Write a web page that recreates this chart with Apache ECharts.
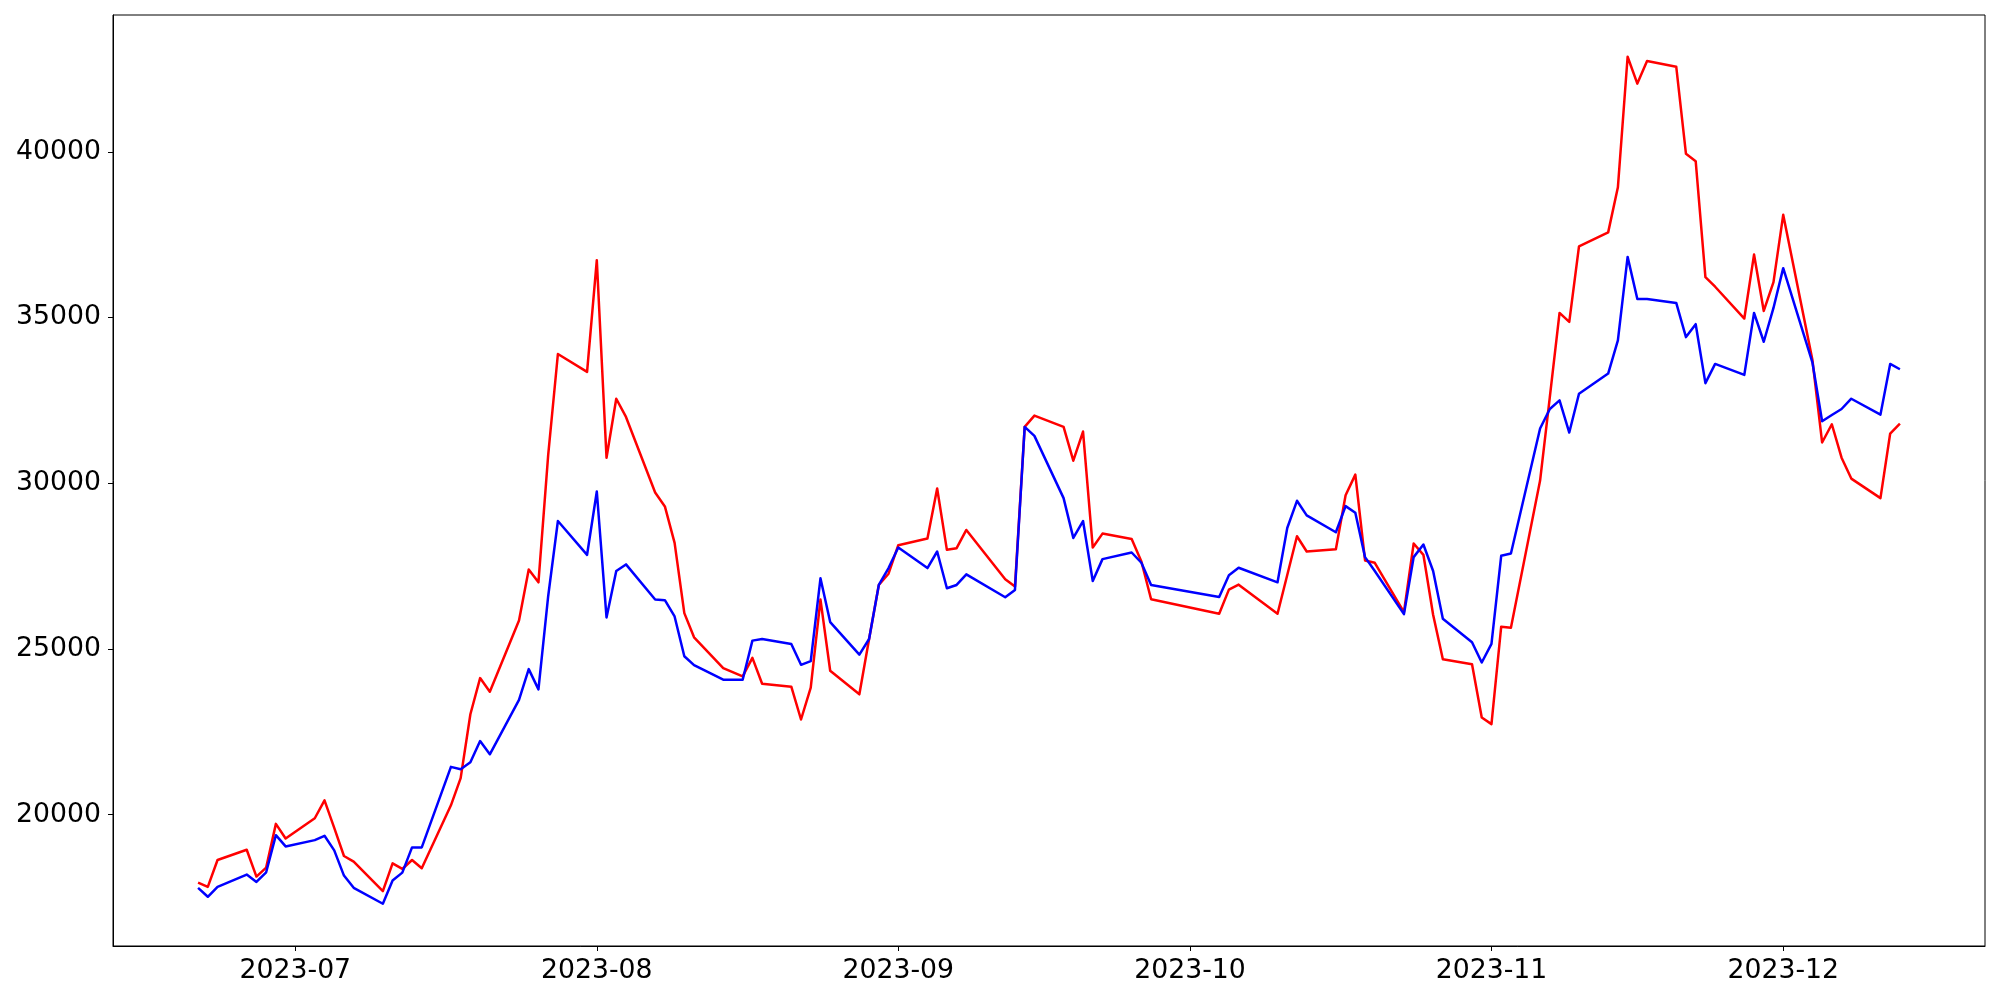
<!DOCTYPE html>
<html>
<head>
<meta charset="utf-8">
<script src="https://cdn.jsdelivr.net/npm/echarts@6/dist/echarts.min.js"></script>
<style>
html,body{margin:0;padding:0;background:#fff;}
#chart{width:2000px;height:1000px;}
</style>
</head>
<body>
<div id="chart"></div>
<script>
// Trading dates (Korean market calendar)
var dates = [
  '2023-06-21','2023-06-22','2023-06-23','2023-06-26','2023-06-27','2023-06-28','2023-06-29','2023-06-30',
  '2023-07-03','2023-07-04','2023-07-05','2023-07-06','2023-07-07',
  '2023-07-10','2023-07-11','2023-07-12','2023-07-13','2023-07-14',
  '2023-07-17','2023-07-18','2023-07-19','2023-07-20','2023-07-21',
  '2023-07-24','2023-07-25','2023-07-26','2023-07-27','2023-07-28',
  '2023-07-31','2023-08-01','2023-08-02','2023-08-03','2023-08-04',
  '2023-08-07','2023-08-08','2023-08-09','2023-08-10','2023-08-11',
  '2023-08-14','2023-08-16','2023-08-17','2023-08-18',
  '2023-08-21','2023-08-22','2023-08-23','2023-08-24','2023-08-25',
  '2023-08-28','2023-08-29','2023-08-30','2023-08-31','2023-09-01',
  '2023-09-04','2023-09-05','2023-09-06','2023-09-07','2023-09-08',
  '2023-09-12','2023-09-13','2023-09-14','2023-09-15',
  '2023-09-18','2023-09-19','2023-09-20','2023-09-21','2023-09-22',
  '2023-09-25','2023-09-26','2023-09-27',
  '2023-10-04','2023-10-05','2023-10-06',
  '2023-10-10','2023-10-11','2023-10-12','2023-10-13',
  '2023-10-16','2023-10-17','2023-10-18','2023-10-19','2023-10-20',
  '2023-10-23','2023-10-24','2023-10-25','2023-10-26','2023-10-27',
  '2023-10-30','2023-10-31','2023-11-01','2023-11-02','2023-11-03',
  '2023-11-06','2023-11-07','2023-11-08','2023-11-09','2023-11-10',
  '2023-11-13','2023-11-14','2023-11-15','2023-11-16','2023-11-17',
  '2023-11-20','2023-11-21','2023-11-22','2023-11-23','2023-11-24',
  '2023-11-27','2023-11-28','2023-11-29','2023-11-30','2023-12-01',
  '2023-12-04','2023-12-05','2023-12-06','2023-12-07','2023-12-08',
  '2023-12-11','2023-12-12','2023-12-13'
];

var redValues = [
  17950, 17820, 18630, 18940, 18130, 18400, 19720, 19280,
  19890, 20430, 19600, 18750, 18580,
  17690, 18530, 18360, 18630, 18380,
  20280, 21100, 23030, 24120, 23710,
  25860, 27400, 27010, 30850, 33900,
  33360, 36730, 30770, 32550, 32000,
  29720, 29300, 28200, 26080, 25350,
  24420, 24170, 24730, 23950,
  23860, 22870, 23830, 26490, 24340,
  23630, 25300, 26930, 27270, 28130,
  28330, 29840, 27990, 28040, 28590,
  27100, 26880, 31700, 32040,
  31700, 30680, 31560, 28060, 28480,
  28320, 27640, 26500,
  26060, 26790, 26940,
  26060, 27230, 28400, 27940,
  28010, 29640, 30260, 27670, 27600,
  26110, 28180, 27840, 26030, 24690,
  24540, 22930, 22730, 25670, 25640,
  30080, 32600, 35140, 34870, 37150,
  37570, 38930, 42870, 42060, 42740,
  42570, 39940, 39720, 36220, 35930,
  34970, 36900, 35200, 36070, 38100,
  33730, 31230, 31780, 30770, 30140,
  29550, 31500, 31800
];

var blueValues = [
  17790, 17520, 17820, 18190, 17970, 18260, 19380, 19040,
  19230, 19360, 18920, 18160, 17790,
  17310, 18010, 18250, 19010, 19010,
  21440, 21370, 21580, 22220, 21820,
  23460, 24390, 23780, 26590, 28860,
  27840, 29750, 25950, 27350, 27550,
  26490, 26470, 25980, 24780, 24510,
  24070, 24070, 25250, 25300,
  25150, 24520, 24630, 27130, 25810,
  24830, 25300, 26930, 27440, 28060,
  27440, 27940, 26830, 26930, 27250,
  26560, 26780, 31700, 31430,
  29550, 28350, 28860, 27050, 27710,
  27910, 27600, 26930,
  26570, 27220, 27450,
  27010, 28650, 29470, 29030,
  28520, 29310, 29110, 27770, 27350,
  26050, 27770, 28150, 27350, 25910,
  25200, 24590, 25150, 27810, 27880,
  31650, 32240, 32500, 31530, 32700,
  33310, 34310, 36830, 35560, 35560,
  35440, 34410, 34800, 33020, 33600,
  33270, 35140, 34270, 35290, 36490,
  33650, 31870, 32060, 32240, 32550,
  32070, 33600, 33440
];

var yTicks = [20000, 25000, 30000, 35000, 40000];
var xTickMonths = ['2023-07-01','2023-08-01','2023-09-01','2023-10-01','2023-11-01','2023-12-01'];

function toTs(s) {
  var p = s.split('-');
  return new Date(+p[0], +p[1] - 1, +p[2]).getTime();
}
var xTicks = xTickMonths.map(toTs);
var xMin = new Date(2023, 5, 12, 6).getTime();
var xMax = new Date(2023, 11, 21, 18).getTime();

var redData = dates.map(function (d, i) { return [toTs(d), redValues[i]]; });
var blueData = dates.map(function (d, i) { return [toTs(d), blueValues[i]]; });

function pad(n) { return n < 10 ? '0' + n : '' + n; }

var FONT = 'DejaVu Sans';
var chart = echarts.init(document.getElementById('chart'), null, {renderer: 'canvas'});
chart.setOption({
  animation: false,
  backgroundColor: '#ffffff',
  grid: {
    left: 113, right: 15, top: 15, bottom: 54,
    show: true, borderColor: '#000000', borderWidth: 1, backgroundColor: 'transparent'
  },
  xAxis: {
    type: 'value',
    min: xMin,
    max: xMax,
    splitLine: {show: false},
    axisLine: {show: true, lineStyle: {color: '#000000', width: 1}},
    axisTick: {show: true, inside: false, length: 5, lineStyle: {color: '#000000', width: 1}, customValues: xTicks},
    axisLabel: {
      show: true, customValues: xTicks, margin: 12,
      fontFamily: FONT, fontSize: 26.7, color: '#000000',
      formatter: function (v) {
        var d = new Date(v);
        return d.getFullYear() + '-' + pad(d.getMonth() + 1);
      }
    }
  },
  yAxis: {
    type: 'value',
    min: 16035,
    max: 44130,
    splitLine: {show: false},
    axisLine: {show: true, lineStyle: {color: '#000000', width: 1}},
    axisTick: {show: true, inside: false, length: 5, lineStyle: {color: '#000000', width: 1}, customValues: yTicks},
    axisLabel: {
      show: true, customValues: yTicks, margin: 12,
      fontFamily: FONT, fontSize: 26.7, color: '#000000',
      formatter: function (v) { return String(v); }
    }
  },
  series: [
    {
      name: 'red', type: 'line', data: redData, showSymbol: false, symbol: 'none',
      lineStyle: {color: '#ff0000', width: 2.5, join: 'round'}, z: 2
    },
    {
      name: 'blue', type: 'line', data: blueData, showSymbol: false, symbol: 'none',
      lineStyle: {color: '#0000ff', width: 2.5, join: 'round'}, z: 3
    }
  ]
});
</script>
</body>
</html>
